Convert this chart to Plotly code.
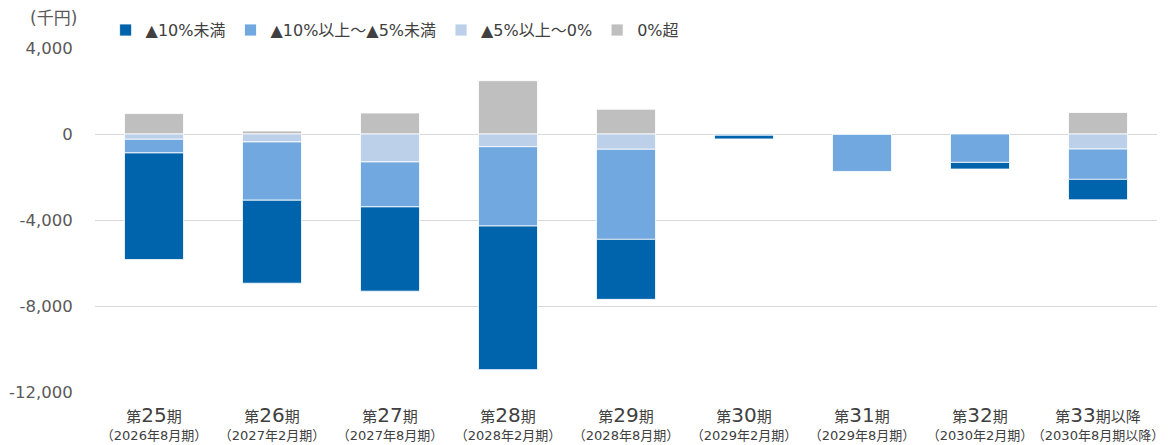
import plotly.graph_objects as go

periods = ["第25期", "第26期", "第27期", "第28期", "第29期", "第30期", "第31期", "第32期", "第33期以降"]
period_nums = ["25", "26", "27", "28", "29", "30", "31", "32", "33"]
period_suffix = ["期", "期", "期", "期", "期", "期", "期", "期", "期以降"]
fiscal = ["（2026年8月期）", "（2027年2月期）", "（2027年8月期）", "（2028年2月期）", "（2028年8月期）",
          "（2029年2月期）", "（2029年8月期）", "（2030年2月期）", "（2030年8月期以降）"]

under10 = [-4960, -3860, -3920, -6680, -2790, -170, 0, -310, -950]
from10to5 = [-635, -2710, -2090, -3690, -4190, -60, -1740, -1320, -1410]
from5to0 = [-245, -370, -1300, -590, -710, 0, 0, 0, -700]
over0 = [950, 140, 975, 2480, 1150, 0, 0, 0, 1000]

y_tickvals = [4000, 0, -4000, -8000, -12000]
y_ticktext = ["4,000", "0", "-4,000", "-8,000", "-12,000"]

names = ["▲10%未満", "▲10%以上～▲5%未満", "▲5%以上～0%", "0%超"]
colors = ["#0064AC", "#70A8DF", "#BDD0E9", "#BFBFBF"]

ticktext = [
    f'<span style="font-size:15px">第</span><span style="font-size:20px">{n}</span><span style="font-size:15px">{s}</span><br><span style="font-size:13px">{f}</span>'
    for n, s, f in zip(period_nums, period_suffix, fiscal)
]

fig = go.Figure()
# stacking order: nearest to zero first
series = [(over0, 3), (from5to0, 2), (from10to5, 1), (under10, 0)]
for vals, i in series:
    fig.add_trace(go.Bar(
        x=periods, y=vals, name=names[i], marker_color=colors[i],
        marker_line_color="white", marker_line_width=0.8,
        legendrank=i + 1, width=0.5,
    ))

font_fam = "DejaVu Sans, Noto Sans CJK JP, sans-serif"
# page body has an 8px default margin; size the figure to fill the remaining window
fig.update_layout(
    barmode="relative",
    width=1163, height=437,
    margin=dict(l=87, r=14, t=40, b=53, autoexpand=False),
    paper_bgcolor="white", plot_bgcolor="white",
    font=dict(family=font_fam, color="#595959", size=14),
    legend=dict(orientation="h", x=0.01, y=1.052, xanchor="left", yanchor="middle",
                font=dict(size=16, color="#404040"), traceorder="normal",
                itemwidth=30, tracegroupgap=0),
    xaxis=dict(tickmode="array", tickvals=periods, ticktext=ticktext, tickangle=0,
               showgrid=False, showline=False, ticks="outside", ticklen=12, tickcolor="rgba(0,0,0,0)",
               tickfont=dict(color="#404040")),
    yaxis=dict(range=[-12000, 4000], tickmode="array", tickvals=y_tickvals, ticktext=y_ticktext,
               gridcolor="#D9D9D9", gridwidth=1,
               zeroline=True, zerolinecolor="#D9D9D9", zerolinewidth=1,
               tickfont=dict(size=16.5, color="#595959"), ticks="outside",
               ticklen=18, tickcolor="rgba(0,0,0,0)", showline=False),
)
fig.layout.annotations = [dict(text="(千円)", xref="paper", yref="paper", x=-0.063, y=1.087,
                               xanchor="left", yanchor="middle", showarrow=False,
                               font=dict(size=17, color="#595959"))]

fig.write_html("out.html")
